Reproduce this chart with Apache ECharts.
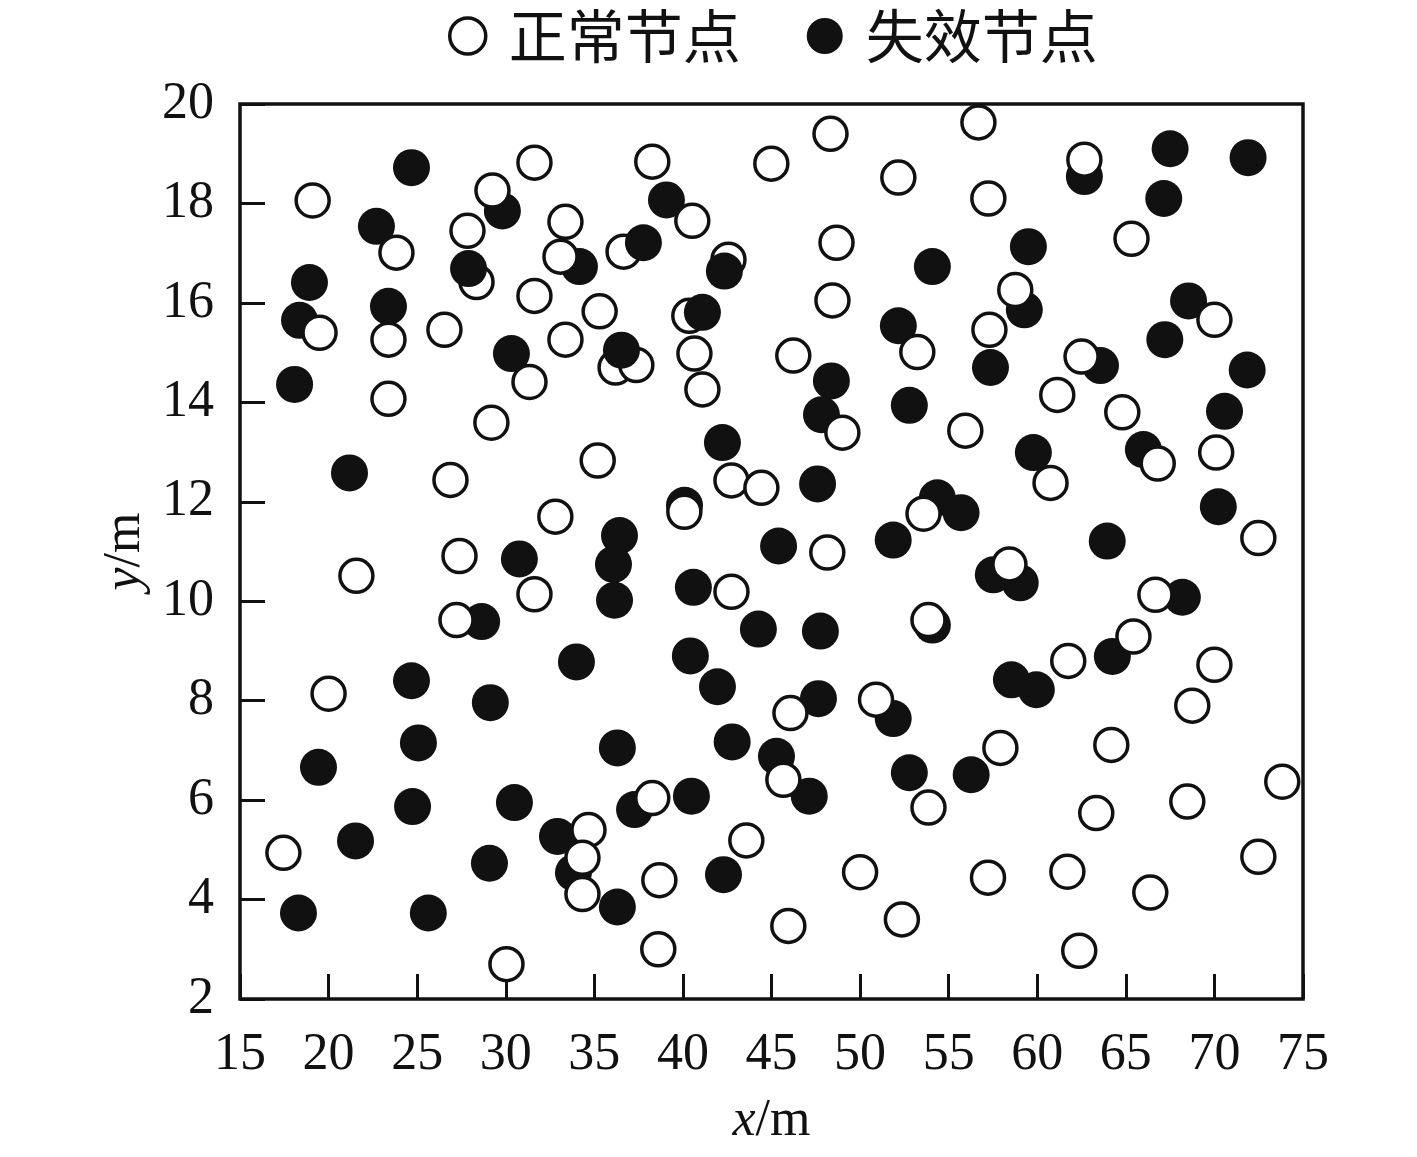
<!DOCTYPE html>
<html>
<head>
<meta charset="utf-8">
<script src="https://cdn.jsdelivr.net/npm/echarts@6/dist/echarts.min.js"></script>
<style>
  html, body { margin: 0; padding: 0; background: #fff; }
  #chart { width: 1417px; height: 1157px; }
</style>
</head>
<body>
<div id="chart"></div>
<script>
// 正常节点 (open circles)
const normalNodes = [
  [17.45, 4.94], [19.1, 18.06], [19.49, 15.4], [20.0, 8.14], [21.57, 10.51], [23.83, 17.01],
  [23.38, 15.26], [23.38, 14.07], [26.54, 15.46], [26.88, 12.44], [27.39, 10.91], [27.22, 9.62],
  [27.84, 17.45], [28.35, 16.42], [29.25, 18.26], [29.19, 13.59], [30.04, 2.7], [31.62, 18.82],
  [31.62, 16.14], [31.34, 14.41], [31.62, 10.14], [32.8, 11.7], [33.37, 17.63], [33.09, 16.93],
  [33.37, 15.26], [34.67, 5.4], [34.33, 4.84], [34.33, 4.11], [35.3, 15.83], [35.19, 12.83],
  [36.65, 17.03], [36.2, 14.7], [37.37, 14.75], [38.27, 18.84], [38.27, 6.04], [38.67, 4.39],
  [38.61, 3.0], [40.36, 15.74], [40.53, 17.65], [40.65, 14.98], [41.1, 14.26], [40.08, 11.8],
  [42.57, 16.87], [42.74, 12.43], [44.43, 12.28], [42.74, 10.19], [44.99, 18.8], [46.23, 14.94],
  [48.33, 19.4], [48.67, 17.21], [48.44, 16.05], [49.0, 13.39], [48.15, 10.98], [46.07, 7.75],
  [45.67, 6.41], [43.58, 5.19], [45.95, 3.47], [50.0, 4.55], [50.9, 8.02], [52.36, 3.6],
  [53.86, 5.85], [52.16, 18.52], [53.23, 15.01], [53.58, 11.76], [53.86, 9.62], [55.94, 13.43],
  [56.68, 19.63], [57.24, 18.1], [57.3, 15.46], [58.76, 16.26], [58.43, 10.74], [57.92, 7.05],
  [57.22, 4.44], [61.13, 14.15], [60.75, 12.38], [61.75, 8.8], [61.7, 4.56], [62.37, 2.97],
  [62.66, 18.88], [62.5, 14.92], [63.33, 5.74], [64.18, 7.11], [64.8, 13.8], [65.32, 17.29],
  [65.43, 9.29], [66.8, 12.77], [66.67, 10.13], [66.38, 4.14], [68.47, 5.97], [70.0, 8.72],
  [68.75, 7.9], [70.0, 15.66], [70.1, 12.99], [72.48, 11.27], [72.48, 4.86], [73.83, 6.37]
]

// 失效节点 (filled circles, drawn under the open ones)
const failedNodes = [
  [24.68, 18.72], [22.7, 17.54], [29.81, 17.85], [34.16, 16.73], [18.92, 16.41], [18.36, 15.65],
  [23.38, 15.93], [30.32, 14.98], [18.08, 14.36], [39.07, 18.07], [48.38, 14.43], [52.16, 15.54],
  [54.08, 16.73], [52.78, 13.94], [47.82, 13.75], [67.5, 19.1], [71.9, 18.92], [62.66, 18.54],
  [67.14, 18.1], [59.5, 17.13], [68.54, 16.04], [59.27, 15.86], [67.2, 15.26], [63.57, 14.74],
  [57.36, 14.7], [71.85, 14.65], [70.57, 13.82], [59.78, 12.99], [65.99, 13.05], [70.22, 11.9],
  [63.95, 11.21], [55.7, 11.78], [54.36, 12.08], [57.52, 10.53], [59.04, 10.37], [68.19, 10.08],
  [64.24, 8.89], [58.54, 8.42], [59.95, 8.22], [54.08, 9.52], [42.23, 13.19], [47.6, 12.36],
  [36.42, 11.32], [36.08, 10.74], [36.14, 10.02], [45.4, 11.11], [40.59, 10.28], [51.87, 11.23],
  [44.26, 9.44], [47.76, 9.4], [40.42, 8.9], [41.95, 8.28], [47.65, 8.04], [51.87, 7.64],
  [33.99, 8.78], [21.18, 12.58], [30.77, 10.85], [28.64, 9.59], [24.68, 8.4], [29.13, 7.96],
  [19.43, 6.66], [25.07, 7.15], [24.74, 5.87], [21.52, 5.18], [30.49, 5.95], [29.08, 4.73],
  [32.92, 5.27], [33.82, 4.54], [18.3, 3.73], [25.63, 3.73], [36.3, 3.85], [36.3, 7.05],
  [42.78, 7.17], [37.27, 5.81], [40.48, 6.08], [45.28, 6.88], [47.13, 6.08], [52.78, 6.55],
  [42.29, 4.5], [56.27, 6.51], [40.09, 11.93]
]

// 失效节点 that sit on top of an open circle
const failedNodesTop = [
  [27.9, 16.69], [37.77, 17.21], [42.34, 16.64], [41.1, 15.81], [36.53, 15.05]
]

const legendNames = ['正常节点', '失效节点']
const xTicks = { min: 15, max: 75, interval: 5 }
const yTicks = { min: 2, max: 20, interval: 2 }

const serif = '"Liberation Serif", "Times New Roman", serif'
const black = '#111'

const chart = echarts.init(document.getElementById('chart'))

const openStyle = { color: '#fff', borderColor: black, borderWidth: 3.5, opacity: 1 }
const fillStyle = { color: black, opacity: 1 }

chart.setOption({
  animation: false,
  legend: {
    top: 2,
    left: 443,
    itemWidth: 36,
    itemHeight: 36,
    itemGap: 66,
    textStyle: { fontFamily: '"Noto Sans CJK SC"', fontSize: 58, color: black, padding: [0, 0, 0, 18] },
    data: [
      { name: legendNames[0], icon: 'circle', itemStyle: openStyle },
      { name: legendNames[1], icon: 'circle', itemStyle: fillStyle }
    ]
  },
  grid: {
    left: 240,
    right: 114,
    top: 104,
    bottom: 158,
    show: true,
    borderColor: black,
    borderWidth: 3.5
  },
  xAxis: {
    type: 'value',
    min: xTicks.min,
    max: xTicks.max,
    interval: xTicks.interval,
    splitLine: { show: false },
    axisLine: { show: false },
    axisTick: { inside: true, length: 25, lineStyle: { color: black, width: 3 } },
    axisLabel: { margin: 30, fontFamily: serif, fontSize: 52, color: black },
    name: '{i|x}/m',
    nameLocation: 'middle',
    nameGap: 96,
    nameTextStyle: {
      fontFamily: serif, fontSize: 52, color: black,
      rich: { i: { fontFamily: serif, fontSize: 52, fontStyle: 'italic', color: black } }
    }
  },
  yAxis: {
    type: 'value',
    min: yTicks.min,
    max: yTicks.max,
    interval: yTicks.interval,
    splitLine: { show: false },
    axisLine: { show: false },
    axisTick: { inside: true, length: 25, lineStyle: { color: black, width: 3 } },
    axisLabel: { margin: 26, fontFamily: serif, fontSize: 52, color: black },
    name: '{i|y}/m',
    nameLocation: 'middle',
    nameGap: 86,
    nameRotate: 90,
    nameTextStyle: {
      fontFamily: serif, fontSize: 52, color: black,
      rich: { i: { fontFamily: serif, fontSize: 52, fontStyle: 'italic', color: black } }
    }
  },
  series: [
    {
      name: legendNames[1],
      type: 'scatter',
      symbol: 'circle',
      symbolSize: 37,
      itemStyle: fillStyle,
      data: failedNodes
    },
    {
      name: legendNames[0],
      type: 'scatter',
      symbol: 'circle',
      symbolSize: 33,
      itemStyle: openStyle,
      data: normalNodes
    },
    {
      name: legendNames[1],
      type: 'scatter',
      symbol: 'circle',
      symbolSize: 37,
      itemStyle: fillStyle,
      data: failedNodesTop
    }
  ]
})

window.onresize = function () {
  chart.resize()
}
</script>
</body>
</html>
